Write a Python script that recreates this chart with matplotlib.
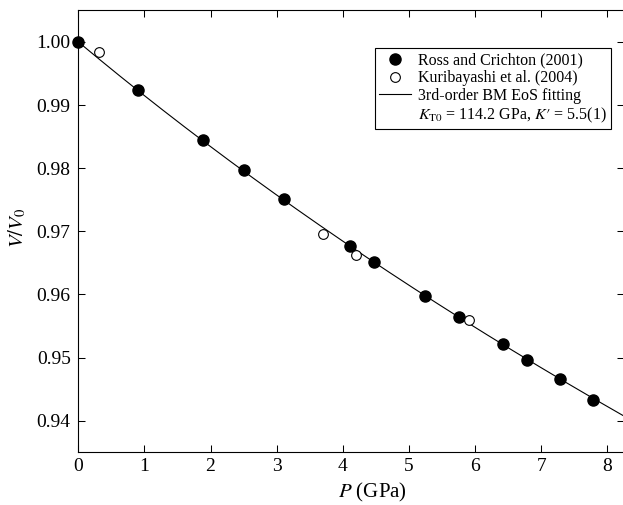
import matplotlib.pyplot as plt
import numpy as np

plt.rcParams['font.family'] = ['Liberation Serif', 'DejaVu Serif']
plt.rcParams['mathtext.fontset'] = 'stix'

# Ross and Crichton (2001)
p_ross = [0.0, 0.90, 1.89, 2.51, 3.11, 4.11, 4.47, 5.245, 5.76, 6.42, 6.78, 7.28, 7.79]
v_ross = [1.0000, 0.99245, 0.98441, 0.97965, 0.97510, 0.96773, 0.96511, 0.95972,
          0.95638, 0.95217, 0.94967, 0.94661, 0.94333]

# Kuribayashi et al. (2004)
p_kuri = [0.32, 3.70, 4.20, 5.91]
v_kuri = [0.99832, 0.96961, 0.96628, 0.95602]

# 3rd-order Birch-Murnaghan fit parameters
K_T0 = 114.2
K_prime = 5.5


def bm3_pressure(x, k0, kp):
    f = x ** (-2.0 / 3.0)
    return 1.5 * k0 * (x ** (-7.0 / 3.0) - x ** (-5.0 / 3.0)) * (1 + 0.75 * (kp - 4) * (f - 1))


v_fit = np.linspace(1.0, 0.938, 300)
p_fit = bm3_pressure(v_fit, K_T0, K_prime)

fig = plt.figure(figsize=(6.23, 5.05), dpi=100)
ax = fig.add_axes([0.1257, 0.1044, 0.8756, 0.8752])

ax.plot(p_fit, v_fit, color='black', lw=0.8, zorder=2)
ax.plot(p_ross, v_ross, 'o', color='black', ms=8, zorder=3, clip_on=False)
ax.plot(p_kuri, v_kuri, 'o', mfc='white', mec='black', mew=0.8, ms=7, zorder=4)

ax.set_xlim(0, 8.25)
ax.set_ylim(0.935, 1.005)
ax.set_xticks(range(0, 9))
ax.set_yticks([0.94, 0.95, 0.96, 0.97, 0.98, 0.99, 1.00])
ax.set_yticklabels(['0.94', '0.95', '0.96', '0.97', '0.98', '0.99', '1.00'])
ax.tick_params(direction='in', top=True, right=True, length=5, width=0.75,
               labelsize=14)
ax.tick_params(axis='x', pad=4)
ax.tick_params(axis='y', pad=5.5)
for s in ax.spines.values():
    s.set_linewidth(0.8)

ax.set_xlabel('$P$ (GPa)', fontsize=15)
ax.xaxis.set_label_coords(0.5395, -0.064)
ax.set_ylabel('$V/V_0$', fontsize=15)
ax.yaxis.set_label_coords(-0.092, 0.507)

# legend: the fit parameters sit on their own row with an empty handle
h_ross, = ax.plot([], [], 'o', color='black', ms=8)
h_kuri, = ax.plot([], [], 'o', mfc='white', mec='black', mew=0.8, ms=7)
h_fit, = ax.plot([], [], color='black', lw=0.8)
h_par, = ax.plot([], [], color='none')
leg = ax.legend([h_ross, h_kuri, h_fit, h_par],
                ['Ross and Crichton (2001)', 'Kuribayashi et al. (2004)',
                 '3rd-order BM EoS fitting',
                 '$K_{\\rm T0}$ = 114.2 GPa, $K\\prime$ = 5.5(1)'],
                loc='upper right', bbox_to_anchor=(0.977, 0.915), borderaxespad=0,
                fontsize=11.5, frameon=True, fancybox=False, edgecolor='black',
                framealpha=1, handlelength=2.0, handletextpad=0.4,
                labelspacing=0.1, borderpad=0.3)
leg.get_frame().set_linewidth(0.8)

fig.savefig('out.png', dpi=100)
